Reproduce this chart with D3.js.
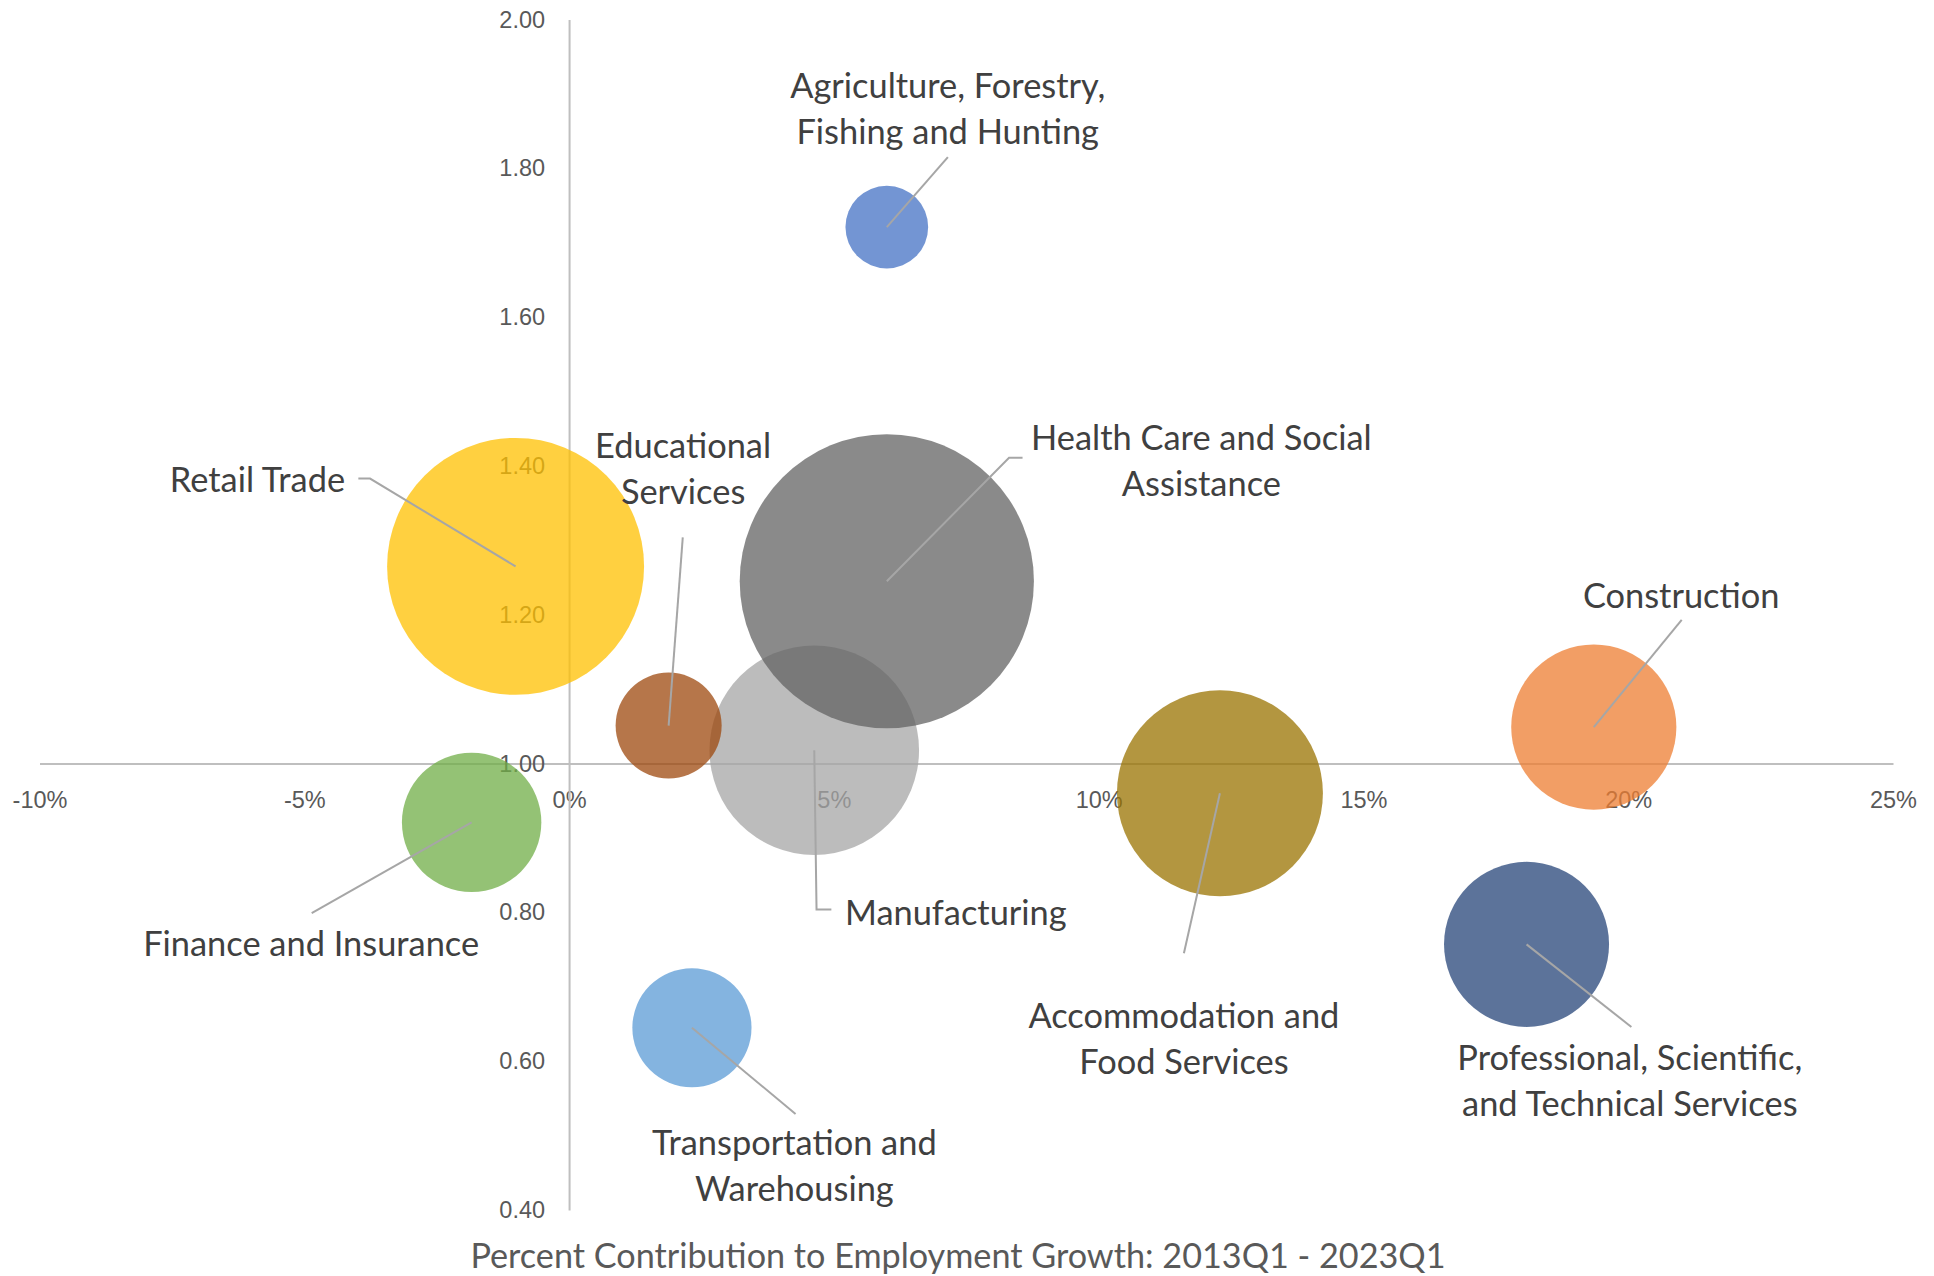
<!DOCTYPE html>
<html>
<head>
<meta charset="utf-8">
<script src="https://cdn.jsdelivr.net/npm/d3@7"></script>
<style>
  body { margin: 0; background: #fff; }
  svg { display: block; font-family: Lato, "Noto Sans", sans-serif; }
</style>
</head>
<body>
<svg id="chart" width="1934" height="1276"></svg>
<script>
// industries in NAICS order (also the order Excel colours and draws them)
const industries = [
  'Agriculture, Forestry, Fishing and Hunting',
  'Construction',
  'Manufacturing',
  'Retail Trade',
  'Transportation and Warehousing',
  'Finance and Insurance',
  'Professional, Scientific, and Technical Services',
  'Educational Services',
  'Health Care and Social Assistance',
  'Accommodation and Food Services'
];

// x: percent contribution to employment growth 2013Q1 - 2023Q1
const growthShare = [6.0, 19.35, 4.63, -1.01, 2.32, -1.84, 18.08, 1.88, 6.0, 12.29];
// y: location quotient
const locQuotient = [1.721, 1.049, 1.018, 1.265, 0.645, 0.921, 0.757, 1.051, 1.245, 0.960];
// bubble size (employment, relative)
const bubbleSize = [17.1, 68.2, 109.8, 165.1, 35.5, 48.6, 68.1, 28.1, 216.4, 106.1];

const colors = ['#4472C4', '#ED7D31', '#A5A5A5', '#FFC000', '#5B9BD5',
                '#70AD47', '#264478', '#9E480E', '#636363', '#997300'];

const xTicks = [-10, -5, 0, 5, 10, 15, 20, 25];
const yTicks = [0.4, 0.6, 0.8, 1.0, 1.2, 1.4, 1.6, 1.8, 2.0];

// data labels, as wrapped in the original chart
const labelLines = [
  ['Agriculture, Forestry,', 'Fishing and Hunting'],
  ['Construction'],
  ['Manufacturing'],
  ['Retail Trade'],
  ['Transportation and', 'Warehousing'],
  ['Finance and Insurance'],
  ['Professional, Scientific,', 'and Technical Services'],
  ['Educational', 'Services'],
  ['Health Care and Social', 'Assistance'],
  ['Accommodation and', 'Food Services']
];
// label anchor (first baseline) in data units, plus alignment
const labelAt = [
  [7.15, 1.895], [21.0, 1.209], [5.21, 0.783], [-4.23, 1.365], [4.254, 0.474],
  [-4.87, 0.742], [20.03, 0.588], [2.153, 1.410], [11.94, 1.422], [11.61, 0.644]
];
const labelAlign = ['middle', 'middle', 'start', 'end', 'middle',
                    'middle', 'middle', 'middle', 'middle', 'middle'];
// leader line points after the bubble centre, in data units
const leaderPts = [
  [[7.153, 1.815]],
  [[21.01, 1.193]],
  [[4.673, 0.804], [4.953, 0.804]],
  [[-3.758, 1.383], [-3.979, 1.383]],
  [[4.277, 0.529]],
  [[-4.860, 0.799]],
  [[20.06, 0.646]],
  [[2.147, 1.304]],
  [[8.308, 1.411], [8.563, 1.411]],
  [[11.61, 0.745]]
];

const svg = d3.select('#chart');

const x = d3.scaleLinear().domain([-10, 25]).range([39.5, 1893]);
const y = d3.scaleLinear().domain([0.4, 2.0]).range([1210, 19.5]);
const r = d3.scaleSqrt().domain([0, d3.max(bubbleSize)]).range([0, 147.1]);

const axisColor = '#BFBFBF';
const tickColor = '#595959';

// horizontal axis crossing at y = 1.00
const xAxis = svg.append('g')
  .attr('transform', `translate(0, ${y(1)})`)
  .call(d3.axisBottom(x).tickValues(xTicks).tickSize(0).tickSizeOuter(0)
    .tickFormat(d => d + '%'));
xAxis.select('.domain').attr('stroke', axisColor).attr('stroke-width', 2);
xAxis.selectAll('text')
  .attr('y', 44).attr('dy', null)
  .attr('fill', tickColor)
  .style('font-size', '23.5px');

// vertical axis crossing at x = 0%
const yAxis = svg.append('g')
  .attr('transform', `translate(${x(0)}, 0)`)
  .call(d3.axisLeft(y).tickValues(yTicks).tickSize(0).tickSizeOuter(0)
    .tickPadding(24).tickFormat(d3.format('.2f')));
yAxis.select('.domain').attr('stroke', axisColor).attr('stroke-width', 2);
yAxis.selectAll('text')
  .attr('fill', tickColor)
  .style('font-size', '23.5px');

svg.selectAll('g.tick line').remove();

// bubbles
svg.append('g')
  .selectAll('circle')
  .data(industries)
  .join('circle')
  .attr('cx', (d, i) => x(growthShare[i]))
  .attr('cy', (d, i) => y(locQuotient[i]))
  .attr('r', (d, i) => r(bubbleSize[i]))
  .attr('fill', (d, i) => colors[i])
  .attr('fill-opacity', 0.75);

// leader lines
const line = d3.line();
svg.append('g')
  .selectAll('path')
  .data(industries)
  .join('path')
  .attr('fill', 'none')
  .attr('stroke', '#A6A6A6')
  .attr('stroke-width', 2)
  .attr('d', (d, i) => {
    const pts = [[x(growthShare[i]), y(locQuotient[i])]]
      .concat(leaderPts[i].map(p => [x(p[0]), y(p[1])]));
    return line(pts);
  });

// data labels
const labels = svg.append('g')
  .selectAll('text')
  .data(industries)
  .join('text')
  .attr('x', (d, i) => x(labelAt[i][0]))
  .attr('y', (d, i) => y(labelAt[i][1]))
  .attr('text-anchor', (d, i) => labelAlign[i])
  .attr('fill', '#404040')
  .style('font-size', '34.4px');

labels.each(function(d, i) {
  const t = d3.select(this);
  labelLines[i].forEach((s, j) => {
    t.append('tspan')
      .attr('x', x(labelAt[i][0]))
      .attr('dy', j === 0 ? 0 : 46)
      .text(s);
  });
});

// x axis title
svg.append('text')
  .attr('x', 958)
  .attr('y', 1268)
  .attr('text-anchor', 'middle')
  .attr('fill', tickColor)
  .style('font-size', '34.2px')
  .text('Percent Contribution to Employment Growth: 2013Q1 - 2023Q1');
</script>
</body>
</html>
